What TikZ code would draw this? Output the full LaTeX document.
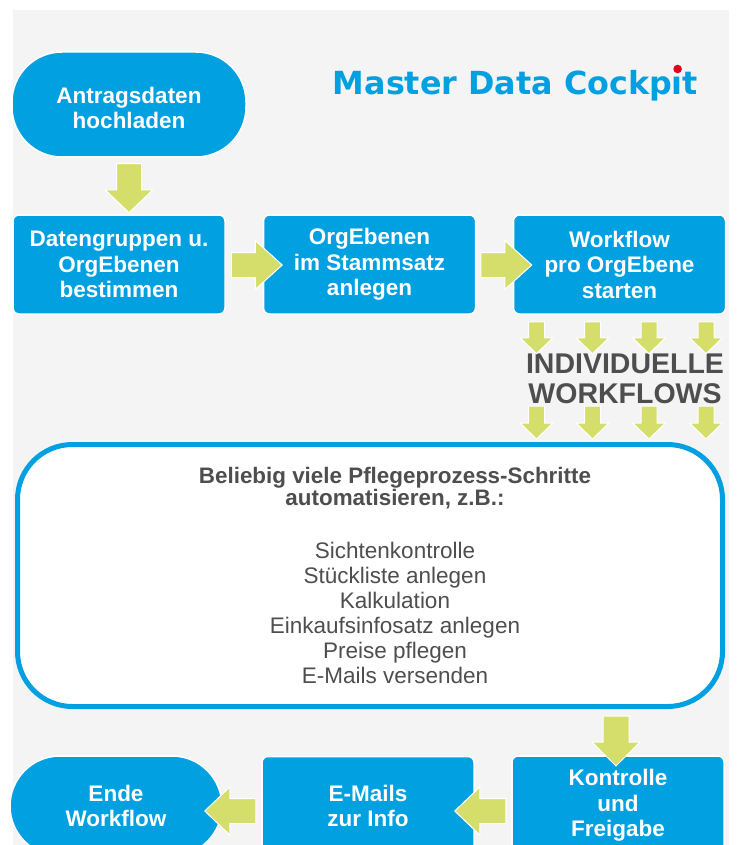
\documentclass[tikz,border=0pt]{standalone}
\usepackage{fontspec}
\setmainfont{Liberation Sans}
\newfontfamily\titlefont{DejaVu Sans}
\usetikzlibrary{calc}
\definecolor{mblue}{RGB}{0,160,225}
\definecolor{agreen}{RGB}{213,222,107}
\definecolor{bggray}{RGB}{244,244,244}
\definecolor{dgray}{RGB}{78,78,78}
\definecolor{dotred}{RGB}{226,0,26}
\tikzset{
  procbox/.style={draw=white, line width=1.5pt, fill=mblue, rounded corners=6pt,
    minimum width=212pt, minimum height=99pt, text=white, align=center, inner sep=0pt,
    font=\bfseries\fontsize{22.5}{25.5}\selectfont},
  termbox/.style={procbox, rounded corners=50pt, minimum width=234pt, minimum height=105pt},
  arrowfill/.style={fill=agreen, draw=white, line width=1pt},
  hdrline/.style={anchor=base, inner sep=0pt, text=dgray, font=\bfseries\fontsize{22.4}{22}\selectfont},
  listline/.style={anchor=base, inner sep=0pt, text=dgray, font=\fontsize{22.5}{25}\selectfont}
}
% #1 start, #2 rotation, #3 length, #4 shaft width, #5 head width, #6 head length
\newcommand{\garrow}[6]{%
  \begin{scope}[shift={#1}, rotate=#2]
    \filldraw[arrowfill] (0,-#4/2) -- ({#3-#6},-#4/2) -- ({#3-#6},-#5/2) -- (#3,0)
      -- ({#3-#6},#5/2) -- ({#3-#6},#4/2) -- (0,#4/2) -- cycle;
  \end{scope}}
\begin{document}
\begin{tikzpicture}[x=1pt, y=-1pt]
\useasboundingbox (0,0) rectangle (739,845);
\fill[white] (0,0) rectangle (739,845);
\fill[bggray] (13,10) rectangle (729,845);

% title
\node[anchor=base west, inner sep=0pt, text=mblue,
  font=\titlefont\bfseries\fontsize{31.8}{36}\selectfont] (title) at (332.7,95) {Master Data Cockpıt};
\fill[dotred] ($(title.base east)+(-20.7,-26)$) circle (4.3);

% top row
\node[termbox] (antrag) at (129,104.5) {\raisebox{-3pt}[\height][\depth]{\shortstack{Antragsdaten\\[1pt]hochladen}}};
\node[procbox] (daten) at (119,264.5) {Datengruppen u.\\OrgEbenen\\bestimmen};
\node[procbox] (org) at (369.5,264.5) {OrgEbenen\\im Stammsatz\\anlegen};
\node[procbox] (wf) at (619.5,264.5) {Workflow\\pro OrgEbene\\starten};

% big box
\node[draw=mblue, line width=5pt, fill=white, rounded corners=55pt,
  minimum width=705pt, minimum height=262pt, inner sep=0pt] (big) at (370,575.5) {};
\node[hdrline] (h1) at (395,483) {Beliebig viele Pflegeprozess-Schritte};
\node[hdrline] (h2) at (395,505) {automatisieren, z.B.:};
\node[listline] (l1) at (395,558) {Sichtenkontrolle};
\node[listline] (l2) at (395,583) {Stückliste anlegen};
\node[listline] (l3) at (395,608) {Kalkulation};
\node[listline] (l4) at (395,633) {Einkaufsinfosatz anlegen};
\node[listline] (l5) at (395,658) {Preise pflegen};
\node[listline] (l6) at (395,683) {E-Mails versenden};

% individual workflows label
\node[text=dgray, align=center, inner sep=0pt,
  font=\bfseries\fontsize{28.5}{30}\selectfont] (indiv) at (625,379) {INDIVIDUELLE\\WORKFLOWS};

% bottom row
\node[termbox, minimum width=212pt, minimum height=100pt] (ende) at (116,806) {Ende\\Workflow};
\node[procbox] (mails) at (368,806) {E-Mails\\zur Info};
\node[procbox] (kontr) at (618,805.5) {Kontrolle\\und\\Freigabe};

% arrows
\garrow{($(antrag.south)+(0,6)$)}{-90}{49}{25}{48}{23}
\garrow{($(daten.east)+(5.5,0.5)$)}{0}{51}{25}{49}{27}
\garrow{($(org.east)+(4.5,0.5)$)}{0}{51}{25}{49}{27}
\foreach \dx in {-83,-27,29.5,86.5}{
  \garrow{($(wf.south)+(\dx,7)$)}{-90}{32}{16}{33}{16}
  \garrow{($(big.north -| wf.south)+(\dx,-36)$)}{-90}{33}{16}{33}{16}
}
\garrow{($(big.south -| kontr.north)+(-2,7)$)}{-90}{50}{26}{48}{24}
\garrow{($(kontr.west)+(-5.5,5.5)$)}{180}{51}{25}{48}{25}
\garrow{($(mails.west)+(-5.5,5)$)}{180}{51}{25}{48}{25}
\end{tikzpicture}
\end{document}
